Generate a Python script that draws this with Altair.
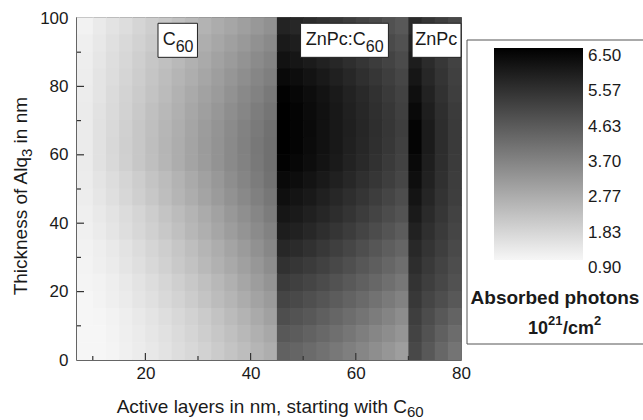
import altair as alt
import pandas as pd

# ---- grid of the simulation (nm) ----
x_edges = [7, 10, 12.5, 15, 17.5, 20, 22.5, 25, 27.5, 30, 32.5, 35, 37.5, 40, 42.5, 45,
           47.5, 50, 52.5, 55, 57.5, 60, 62.5, 65, 67.5, 70, 72.5, 75, 77.5, 80]
y_edges = [0, 5, 10, 15, 20, 25, 30, 35, 40, 45, 50, 55, 60, 65, 70, 75, 80, 85, 90, 95, 100]

# absorbed photons (1e21/cm^2); rows listed from the top (Alq3 = 95-100 nm) downwards
c60_rows = [
    [1.00, 1.17, 1.33, 1.48, 1.64, 1.80, 1.95, 2.11, 2.26, 2.42, 2.58, 2.73, 2.89, 3.04, 3.20],
    [1.05, 1.23, 1.39, 1.56, 1.72, 1.88, 2.05, 2.21, 2.37, 2.53, 2.70, 2.86, 3.02, 3.19, 3.35],
    [1.08, 1.27, 1.44, 1.61, 1.78, 1.96, 2.13, 2.30, 2.47, 2.64, 2.81, 2.98, 3.16, 3.33, 3.50],
    [1.10, 1.30, 1.48, 1.65, 1.83, 2.01, 2.19, 2.37, 2.55, 2.73, 2.90, 3.08, 3.26, 3.44, 3.62],
    [1.12, 1.32, 1.51, 1.70, 1.88, 2.07, 2.25, 2.44, 2.62, 2.81, 2.98, 3.18, 3.37, 3.55, 3.74],
    [1.14, 1.35, 1.54, 1.73, 1.93, 2.12, 2.31, 2.50, 2.69, 2.88, 3.07, 3.26, 3.46, 3.65, 3.84],
    [1.15, 1.37, 1.56, 1.76, 1.96, 2.15, 2.35, 2.55, 2.74, 2.94, 3.13, 3.33, 3.53, 3.72, 3.92],
    [1.16, 1.38, 1.58, 1.78, 1.97, 2.17, 2.37, 2.57, 2.77, 2.97, 3.16, 3.36, 3.56, 3.76, 3.96],
    [1.15, 1.37, 1.57, 1.77, 1.96, 2.16, 2.36, 2.56, 2.76, 2.96, 3.15, 3.35, 3.55, 3.75, 3.95],
    [1.13, 1.30, 1.47, 1.65, 1.84, 2.04, 2.23, 2.43, 2.63, 2.84, 3.05, 3.26, 3.47, 3.68, 3.90],
    [1.10, 1.26, 1.43, 1.61, 1.79, 1.98, 2.17, 2.37, 2.57, 2.77, 2.97, 3.17, 3.38, 3.59, 3.80],
    [1.07, 1.19, 1.34, 1.50, 1.66, 1.84, 2.03, 2.22, 2.41, 2.61, 2.82, 3.03, 3.24, 3.46, 3.68],
    [1.03, 1.15, 1.29, 1.44, 1.60, 1.77, 1.95, 2.14, 2.33, 2.52, 2.72, 2.92, 3.13, 3.34, 3.55],
    [1.00, 1.09, 1.20, 1.34, 1.49, 1.64, 1.82, 1.99, 2.18, 2.37, 2.57, 2.77, 2.98, 3.20, 3.42],
    [0.97, 1.05, 1.16, 1.29, 1.43, 1.58, 1.75, 1.92, 2.09, 2.28, 2.46, 2.66, 2.86, 3.07, 3.28],
    [0.94, 1.00, 1.09, 1.20, 1.33, 1.47, 1.62, 1.78, 1.95, 2.12, 2.31, 2.50, 2.71, 2.92, 3.13],
    [0.91, 0.97, 1.05, 1.16, 1.28, 1.41, 1.55, 1.70, 1.86, 2.03, 2.21, 2.39, 2.58, 2.78, 2.98],
    [0.88, 0.92, 0.99, 1.08, 1.19, 1.31, 1.44, 1.58, 1.73, 1.89, 2.06, 2.24, 2.43, 2.63, 2.83],
    [0.86, 0.90, 0.97, 1.05, 1.15, 1.26, 1.38, 1.51, 1.65, 1.80, 1.96, 2.13, 2.31, 2.49, 2.68],
    [0.85, 0.89, 0.95, 1.03, 1.12, 1.22, 1.33, 1.46, 1.59, 1.73, 1.88, 2.04, 2.20, 2.37, 2.55],
]
blend_rows = [
    [5.70, 5.61, 5.50, 5.38, 5.25, 5.11, 4.96, 4.81, 4.66, 4.50],
    [5.90, 5.81, 5.70, 5.57, 5.43, 5.28, 5.13, 4.98, 4.82, 4.65],
    [6.10, 6.01, 5.89, 5.75, 5.61, 5.46, 5.30, 5.14, 4.97, 4.80],
    [6.30, 6.20, 6.07, 5.93, 5.77, 5.61, 5.44, 5.26, 5.08, 4.90],
    [6.45, 6.35, 6.21, 6.06, 5.90, 5.73, 5.56, 5.38, 5.19, 5.00],
    [6.50, 6.40, 6.26, 6.11, 5.95, 5.78, 5.61, 5.43, 5.24, 5.05],
    [6.50, 6.40, 6.27, 6.12, 5.96, 5.80, 5.63, 5.45, 5.27, 5.08],
    [6.50, 6.40, 6.26, 6.11, 5.95, 5.78, 5.61, 5.43, 5.24, 5.05],
    [6.45, 6.35, 6.21, 6.06, 5.90, 5.73, 5.56, 5.38, 5.19, 5.00],
    [6.30, 6.20, 6.07, 5.93, 5.77, 5.61, 5.44, 5.26, 5.08, 4.90],
    [6.15, 6.05, 5.92, 5.78, 5.62, 5.46, 5.29, 5.11, 4.93, 4.75],
    [6.00, 5.90, 5.77, 5.63, 5.47, 5.31, 5.14, 4.96, 4.78, 4.60],
    [5.85, 5.75, 5.61, 5.46, 5.30, 5.13, 4.96, 4.78, 4.59, 4.40],
    [5.62, 5.51, 5.38, 5.23, 5.07, 4.90, 4.73, 4.55, 4.37, 4.20],
    [5.38, 5.28, 5.15, 5.01, 4.86, 4.70, 4.53, 4.36, 4.18, 4.00],
    [5.15, 5.05, 4.93, 4.79, 4.64, 4.48, 4.32, 4.15, 3.98, 3.80],
    [4.93, 4.83, 4.70, 4.56, 4.41, 4.25, 4.08, 3.91, 3.73, 3.55],
    [4.72, 4.62, 4.49, 4.34, 4.18, 4.02, 3.85, 3.67, 3.49, 3.30],
    [4.50, 4.40, 4.27, 4.13, 3.97, 3.81, 3.64, 3.46, 3.28, 3.10],
    [4.30, 4.20, 4.07, 3.93, 3.77, 3.61, 3.44, 3.26, 3.08, 2.90],
]
znpc_rows = [
    [5.55, 5.30, 5.08, 4.87],
    [5.70, 5.42, 5.18, 4.95],
    [5.85, 5.52, 5.25, 5.00],
    [6.00, 5.62, 5.32, 5.05],
    [6.15, 5.72, 5.38, 5.10],
    [6.30, 5.82, 5.45, 5.15],
    [6.40, 5.88, 5.48, 5.17],
    [6.40, 5.88, 5.48, 5.17],
    [6.30, 5.82, 5.45, 5.15],
    [6.18, 5.74, 5.40, 5.12],
    [6.05, 5.65, 5.35, 5.08],
    [5.90, 5.55, 5.27, 5.00],
    [5.75, 5.44, 5.18, 4.92],
    [5.60, 5.32, 5.08, 4.84],
    [5.47, 5.20, 4.98, 4.75],
    [5.35, 5.08, 4.88, 4.66],
    [5.22, 4.94, 4.72, 4.50],
    [5.10, 4.78, 4.50, 4.25],
    [4.98, 4.64, 4.32, 4.05],
    [4.85, 4.50, 4.15, 3.85],
]

legend_values = [6.50, 5.57, 4.63, 3.70, 2.77, 1.83, 0.90]
x_tick_labels = [20, 40, 60, 80]
y_tick_labels = [0, 20, 40, 60, 80, 100]
x_major_ticks = [20, 40, 60]
x_minor_ticks = [10, 30, 50, 70]
y_major_ticks = [20, 40, 60, 80]
y_minor_ticks = [10, 30, 50, 70, 90]

# layer annotations (in nm)
region_main = ["C", "ZnPc:C", "ZnPc"]
region_sub = ["60", "60", ""]
region_anchor_x = [25.76, 61.9, 79.3]
region_box_x0 = [22.4, 49.5, 70.7]
region_box_x1 = [29.9, 66.2, 80.0]
region_box_y0 = [88.5, 88.5, 88.5]
region_box_y1 = [98.45, 98.45, 98.45]
region_text_y = [93.6, 93.6, 93.6]

# ---- build table ----
records = []
n_rows = len(c60_rows)
for i in range(n_rows):
    row = c60_rows[i] + blend_rows[i] + znpc_rows[i]
    y_top = y_edges[n_rows - i]
    y_bot = y_edges[n_rows - i - 1]
    for j, v in enumerate(row):
        records.append({"x0": x_edges[j], "x1": x_edges[j + 1], "y0": y_bot, "y1": y_top, "v": v})
heat_df = pd.DataFrame(records)

FONT = "Liberation Sans"
TXT = "#1a1a1a"
PLOT_W, PLOT_H = 384, 342
BAR_TOP, BAR_BOTTOM = 30, 242   # colour bar, in plot pixels

xs = alt.Scale(domain=[7, 80], nice=False, zero=False)
ys = alt.Scale(domain=[0, 100], nice=False, zero=False)
x_axis = alt.Axis(values=x_tick_labels, title=None, ticks=False, domain=False, grid=False,
                  labelFontSize=17, labelPadding=5, labelFlush=False, labelColor=TXT, labelFont=FONT)
y_axis = alt.Axis(values=y_tick_labels, title=None, ticks=False, domain=False, grid=False,
                  labelFontSize=17, labelPadding=9, labelFlush=False, labelColor=TXT, labelFont=FONT)
cscale = alt.Scale(domain=[0.9, 6.5], range=["#f6f6f6", "#000000"], interpolate="rgb", clamp=True)

heat = alt.Chart(heat_df).mark_rect(x2Offset=0.7, y2Offset=-0.7).encode(
    x=alt.X("x0:Q", scale=xs, axis=x_axis),
    x2="x1:Q",
    y=alt.Y("y0:Q", scale=ys, axis=y_axis),
    y2="y1:Q",
    color=alt.Color("v:Q", scale=cscale, legend=alt.Legend(
        type="gradient", orient="none", legendX=417, legendY=BAR_TOP, direction="vertical",
        gradientLength=BAR_BOTTOM - BAR_TOP, gradientThickness=89, gradientStrokeWidth=0,
        title=None, values=legend_values, labelExpr="''", labelOpacity=0, padding=0)),
)

def xticks(vals, length):
    return alt.Chart(pd.DataFrame({"t": vals})).mark_rule(color="#333", strokeWidth=1.2).encode(
        x=alt.X("t:Q", scale=xs, axis=x_axis), y=alt.value(PLOT_H), y2=alt.value(PLOT_H - length))

def yticks(vals, length):
    return alt.Chart(pd.DataFrame({"t": vals})).mark_rule(color="#333", strokeWidth=1.2).encode(
        y=alt.Y("t:Q", scale=ys, axis=y_axis), x=alt.value(0), x2=alt.value(length))

reg_df = pd.DataFrame({
    "main": region_main, "sub": region_sub, "ax": region_anchor_x,
    "bx0": region_box_x0, "bx1": region_box_x1, "by0": region_box_y0, "by1": region_box_y1,
    "ty": region_text_y,
})
boxes = alt.Chart(reg_df).mark_rect(fill="white", stroke="#222", strokeWidth=1).encode(
    x=alt.X("bx0:Q", scale=xs, axis=x_axis), x2="bx1:Q",
    y=alt.Y("by0:Q", scale=ys, axis=y_axis), y2="by1:Q")
reg_main = alt.Chart(reg_df).mark_text(align="right", baseline="middle", fontSize=18, font=FONT,
                                       color=TXT).encode(
    x=alt.X("ax:Q", scale=xs, axis=x_axis), y=alt.Y("ty:Q", scale=ys, axis=y_axis), text="main:N")
reg_sub = alt.Chart(reg_df).mark_text(align="left", baseline="middle", fontSize=16, font=FONT,
                                      color=TXT, dy=7.5).encode(
    x=alt.X("ax:Q", scale=xs, axis=x_axis), y=alt.Y("ty:Q", scale=ys, axis=y_axis), text="sub:N")

one = pd.DataFrame({"_": [0]})

def label(text, x, y, size, align="center", weight="normal", angle=0, dx=0, dy=0):
    kw = dict(align=align, baseline="middle", fontSize=size, font=FONT, color=TXT,
              fontWeight=weight, dx=dx, dy=dy)
    if angle:
        kw["angle"] = angle
    return alt.Chart(one).mark_text(**kw).encode(x=alt.value(x), y=alt.value(y), text=alt.value(text))

xt1 = label("Active layers in nm, starting with C", 330, 389, 19, align="right")
xt2 = label("60", 330, 389, 15, align="left", dy=5)
yt1 = label("Thickness of Alq", -56, 139, 19, align="right", angle=270)
yt2 = label("3", -56, 139, 15, align="left", angle=270, dy=6)
yt3 = label("in nm", -56, 139, 19, align="left", angle=270, dx=13.6)

legend_box = alt.Chart(one).mark_rect(fillOpacity=0, stroke="#555", strokeWidth=1).encode(
    x=alt.value(390), x2=alt.value(600), y=alt.value(22), y2=alt.value(326))
lt1 = label("Absorbed photons", 478, 280, 19, weight="bold")
lt2a = label("10", 471, 311, 18, align="right", weight="bold")
lt2b = label("21", 471, 311, 13, align="left", weight="bold", dy=-8)
lt2c = label("/cm", 471, 311, 18, align="left", weight="bold", dx=15)
lt2d = label("2", 471, 311, 13, align="left", weight="bold", dx=46, dy=-8)

main = alt.layer(
    heat,
    xticks(x_major_ticks, 7), xticks(x_minor_ticks, 4),
    yticks(y_major_ticks, 7), yticks(y_minor_ticks, 4),
    boxes, reg_main, reg_sub,
    xt1, xt2, yt1, yt2, yt3,
    legend_box, lt1, lt2a, lt2b, lt2c, lt2d,
)

# colour-bar tick labels, placed through a scale that spans the colour bar
bar_labels = alt.Chart(pd.DataFrame({"val": legend_values})).mark_text(
    align="left", baseline="top", fontSize=17, font=FONT, color=TXT,
).encode(
    x=alt.value(511),
    y=alt.Y("val:Q", scale=alt.Scale(domain=[0.9, 6.5], range=[BAR_BOTTOM, BAR_TOP]), axis=None),
    text=alt.Text("val:Q", format=".2f"),
)

chart = alt.layer(main, bar_labels).resolve_scale(y="independent").properties(
    width=PLOT_W, height=PLOT_H,
    autosize=alt.AutoSizeParams(type="none"),
    padding={"left": 77, "top": 18, "right": 182, "bottom": 60},
    background="white",
).configure_view(stroke="#333", strokeWidth=1.5)

chart.save("out.html", embed_options={"renderer": "svg", "actions": False})
